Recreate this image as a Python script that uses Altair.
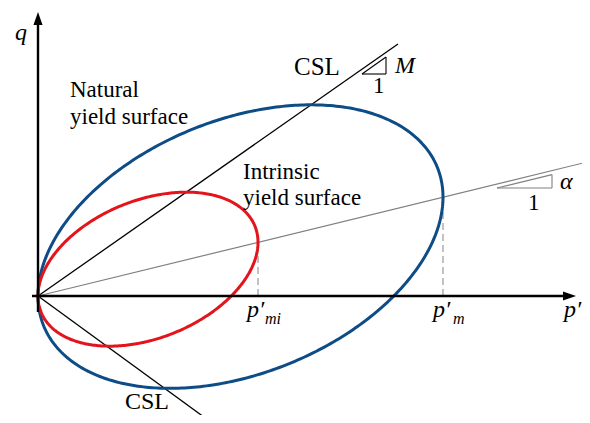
import altair as alt
import numpy as np
import pandas as pd

# ---- values (units = pixels from the origin) ----
M_slope = 0.70            # CSL slope (compression)
alpha_slope = 0.244       # inclination alpha
pm_natural = 405          # p'_m
pm_intrinsic = 220        # p'_mi
csl_upper_end = [360, 252]
csl_lower_end = [170, -124]
alpha_line_end = [552, 134.7]

axis_x = [-6, 527]
axis_y = [-16, 271]
arrow_x_center = [531.5, 0]
arrow_y_center = [0, 277.5]

tri_M = [324, 222, 348, 239]        # left p, bottom q, right p, top q
tri_alpha = [459, 108, 514, 121.4]

label_text = ["Natural", "yield surface", "Intrinsic", "yield surface", "1", "1"]
label_p = [32, 32, 205, 205, 335, 490]
label_q = [199, 172, 117, 91, 203, 86]

csl_text = ["CSL", "CSL"]
csl_p = [256, 87]
csl_q = [221, -113]
csl_size = [25, 24]

ital_text = ["q", "M", "α", "p′", "p′", "p′"]
ital_p = [-23, 357, 522, 526, 209, 395]
ital_q = [256, 223, 107, -21, -21, -21]
sub_text = ["mi", "m"]
sub_p = [227, 415]
sub_q = [-28, -28]

FONT = "Liberation Serif"
xs = alt.Scale(domain=[-30, 544], nice=False, zero=False)
ys = alt.Scale(domain=[-119, 288], nice=False, zero=False)


def yield_surface(pm):
    t = np.linspace(0, 2 * np.pi, 400)
    p = pm * (1 - np.cos(t)) / 2
    q = alpha_slope * p + np.sqrt(M_slope**2 - alpha_slope**2) * pm / 2 * np.sin(t)
    return pd.DataFrame({"p": p, "q": q, "i": np.arange(len(t))})


def ellipse_layer(pm, color):
    return alt.Chart(yield_surface(pm)).mark_line(
        color=color, strokeWidth=3, strokeCap="round", strokeJoin="round"
    ).encode(
        x=alt.X("p:Q", scale=xs, axis=None),
        y=alt.Y("q:Q", scale=ys, axis=None),
        order="i:Q",
    )


def seg_layer(rows, color, width, dash=None):
    df = pd.DataFrame(rows, columns=["p", "q", "p2", "q2"])
    kw = dict(color=color, strokeWidth=width)
    if dash:
        kw["strokeDash"] = dash
    return alt.Chart(df).mark_rule(**kw).encode(
        x=alt.X("p:Q", scale=xs, axis=None),
        y=alt.Y("q:Q", scale=ys, axis=None),
        x2="p2:Q",
        y2="q2:Q",
    )


def text_layer(texts, ps, qs, size, italic=False, align="left"):
    df = pd.DataFrame({"t": texts, "p": ps, "q": qs})
    kw = dict(font=FONT, fontSize=size, align=align, baseline="alphabetic", color="black")
    if italic:
        kw["fontStyle"] = "italic"
    return alt.Chart(df).mark_text(**kw).encode(
        x=alt.X("p:Q", scale=xs, axis=None),
        y=alt.Y("q:Q", scale=ys, axis=None),
        text="t:N",
    )


def arrow_layer(center, path, size):
    df = pd.DataFrame({"p": [center[0]], "q": [center[1]]})
    return alt.Chart(df).mark_point(
        shape=path, filled=True, size=size, color="black", opacity=1, strokeWidth=0
    ).encode(
        x=alt.X("p:Q", scale=xs, axis=None),
        y=alt.Y("q:Q", scale=ys, axis=None),
    )


layers = [
    seg_layer([[0, 0, csl_upper_end[0], csl_upper_end[1]],
               [0, 0, csl_lower_end[0], csl_lower_end[1]]], "black", 1.3),
    seg_layer([[0, 0, alpha_line_end[0], alpha_line_end[1]]], "#808080", 1.2),
    seg_layer([[pm_natural, 0, pm_natural, alpha_slope * pm_natural],
               [pm_intrinsic, 0, pm_intrinsic, alpha_slope * pm_intrinsic]],
              "#999999", 1.2, [7, 4]),
    seg_layer([[tri_M[0], tri_M[1], tri_M[2], tri_M[1]],
               [tri_M[2], tri_M[1], tri_M[2], tri_M[3]],
               [tri_M[0], tri_M[1], tri_M[2], tri_M[3]]], "black", 1.1),
    seg_layer([[tri_alpha[0], tri_alpha[1], tri_alpha[2], tri_alpha[1]],
               [tri_alpha[2], tri_alpha[1], tri_alpha[2], tri_alpha[3]],
               [tri_alpha[0], tri_alpha[1], tri_alpha[2], tri_alpha[3]]], "#808080", 1.1),
    ellipse_layer(pm_natural, "#0D4C86"),
    ellipse_layer(pm_intrinsic, "#E3141C"),
    seg_layer([[axis_x[0], 0, axis_x[1], 0], [0, axis_y[0], 0, axis_y[1]]], "black", 2.4),
    arrow_layer(arrow_x_center, "M1,0L-1,0.7L-1,-0.7Z", 169),
    arrow_layer(arrow_y_center, "M0,-1L0.7,1L-0.7,1Z", 169),
    text_layer(label_text, label_p, label_q, 23),
    text_layer(csl_text[:1], csl_p[:1], csl_q[:1], csl_size[0]),
    text_layer(csl_text[1:], csl_p[1:], csl_q[1:], csl_size[1]),
    text_layer(ital_text, ital_p, ital_q, 24, italic=True),
    text_layer(sub_text, sub_p, sub_q, 16, italic=True),
]

chart = alt.layer(*layers).properties(
    width=574,
    height=407,
    padding={"left": 0, "top": 0, "right": 0, "bottom": 0},
    autosize=alt.AutoSizeParams(type="none"),
).configure_view(stroke=None, clip=False)

chart.save("out.html", embed_options={"renderer": "svg", "actions": False})
